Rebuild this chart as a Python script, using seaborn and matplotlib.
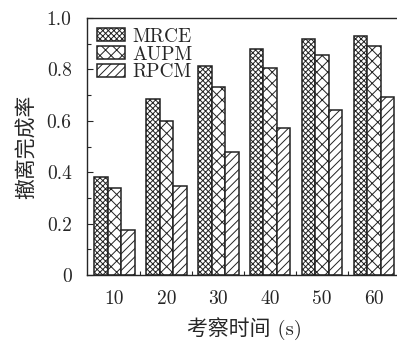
import numpy as np
import pandas as pd
import matplotlib
matplotlib.use("Agg")
import matplotlib.pyplot as plt
import seaborn as sns

times = ["10", "20", "30", "40", "50", "60"]
methods = ["MRCE", "AUPM", "RPCM"]
mrce = [0.383, 0.684, 0.813, 0.880, 0.917, 0.931]
aupm = [0.338, 0.598, 0.730, 0.806, 0.858, 0.890]
rpcm = [0.177, 0.348, 0.479, 0.573, 0.641, 0.691]
hatches = ["xxxxxx", "xxx", "////"]
yticks = [0, 0.2, 0.4, 0.6, 0.8, 1.0]
ytick_labels = ["0", "0.2", "0.4", "0.6", "0.8", "1.0"]

df = pd.DataFrame({
    "time": times * 3,
    "method": [m for m in methods for _ in times],
    "rate": mrce + aupm + rpcm,
})

sns.set_style("ticks")
plt.rcParams["hatch.linewidth"] = 0.7
plt.rcParams["hatch.color"] = "#222222"

fig = plt.figure(figsize=(3.97, 3.43), dpi=100)
ax = fig.add_axes([0.219, 0.198, 0.795, 0.7495])

sns.barplot(data=df, x="time", y="rate", hue="method", order=times, hue_order=methods,
            width=0.78, gap=0, palette=["white"] * 3, edgecolor="#222222",
            linewidth=1.1, saturation=1, ax=ax, legend=True)

for cont, h in zip(ax.containers, hatches):
    for bar in cont:
        bar.set_hatch(h)

ax.set_xlim(-0.53, 5.55)
ax.set_ylim(0, 1.0)
ax.set_yticks(yticks)
ax.set_yticklabels(ytick_labels, fontfamily="cmr10", fontsize=14)
ax.set_yticks(np.arange(0.1, 1.0, 0.2), minor=True)
ax.set_xticks(range(len(times)))
ax.set_xticklabels(times, fontfamily="cmr10", fontsize=14)
ax.set_xticks(np.arange(0.5, 5.0, 1.0), minor=True)
ax.tick_params(axis="both", which="major", direction="in", length=4, width=0.8, pad=11)
ax.tick_params(axis="both", which="minor", direction="in", length=3, width=0.8)
for s in ax.spines.values():
    s.set_linewidth(1.0)

ax.set_xlabel("考察时间 (s)", family=["cmr10", "Noto Sans CJK SC"], fontsize=15, labelpad=6)
ax.set_ylabel("撤离完成率", family=["Noto Sans CJK SC"], fontsize=15, labelpad=7)

handles, labels = ax.get_legend_handles_labels()
for hd, h in zip(handles, hatches):
    hd.set_hatch(h)
ax.legend(handles, labels, loc="upper left", frameon=False, prop={"family": "cmr10", "size": 14},
          handlelength=1.45, handleheight=0.65, handletextpad=0.4, labelspacing=0.0,
          borderaxespad=0.1, bbox_to_anchor=(0.0, 1.0))

fig.savefig("out.png", dpi=100)
